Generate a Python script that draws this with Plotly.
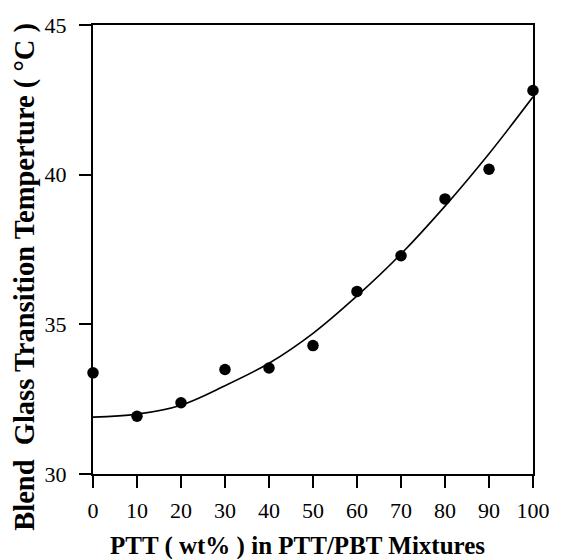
import plotly.graph_objects as go

ptt_wt = [0, 10, 20, 30, 40, 50, 60, 70, 80, 90, 100]
tg_measured = [33.38, 31.93, 32.38, 33.49, 33.54, 34.29, 36.10, 37.29, 39.19, 40.18, 42.81]
tg_fit = [31.90, 32.00, 32.30, 32.95, 33.70, 34.70, 35.95, 37.35, 38.95, 40.70, 42.60]

x_ticks = [0, 10, 20, 30, 40, 50, 60, 70, 80, 90, 100]
y_ticks = [30, 35, 40, 45]

FONT = "Liberation Serif"

fig = go.Figure()
fig.add_trace(go.Scatter(x=ptt_wt, y=tg_fit, mode="lines",
                         line=dict(color="black", width=1.6, shape="spline", smoothing=1.0),
                         showlegend=False, hoverinfo="skip"))
fig.add_trace(go.Scatter(x=ptt_wt, y=tg_measured, mode="markers",
                         marker=dict(color="black", size=11.5),
                         showlegend=False, cliponaxis=False))

fig.update_layout(
    width=562, height=559,
    margin=dict(l=92.5, r=19.5, t=25, b=84.5),
    paper_bgcolor="white", plot_bgcolor="white",
    font=dict(family=FONT, color="black", size=22),
    xaxis=dict(range=[0, 100], tickvals=x_ticks, ticks="outside", ticklen=12, tickwidth=2,
               tickcolor="black", showline=True, linecolor="black", linewidth=2,
               mirror=True, showgrid=False, zeroline=False,
               tickfont=dict(family=FONT, size=22, color="black"), ticklabelstandoff=4),
    yaxis=dict(range=[30, 45], tickvals=y_ticks, ticks="outside", ticklen=12, tickwidth=2,
               tickcolor="black", showline=True, linecolor="black", linewidth=2,
               mirror=True, showgrid=False, zeroline=False,
               tickfont=dict(family=FONT, size=22, color="black"), ticklabelstandoff=8),
    annotations=[
        dict(text="<b>PTT ( wt% ) in PTT/PBT Mixtures</b>", xref="paper", yref="paper",
             x=(302 - 92.5) / 450, y=-(547 - 474.5) / 449.5, xanchor="center", yanchor="middle",
             showarrow=False, font=dict(family=FONT, size=25, color="black")),
        dict(text="<b>Blend  Glass Transition Temperture ( °C )</b>", xref="paper", yref="paper",
             x=-(92.5 - 23) / 450, y=(474.5 - 277) / 449.5, xanchor="center", yanchor="middle",
             textangle=-90, showarrow=False, font=dict(family=FONT, size=28.5, color="black")),
    ],
)

fig.write_html("out.html")
